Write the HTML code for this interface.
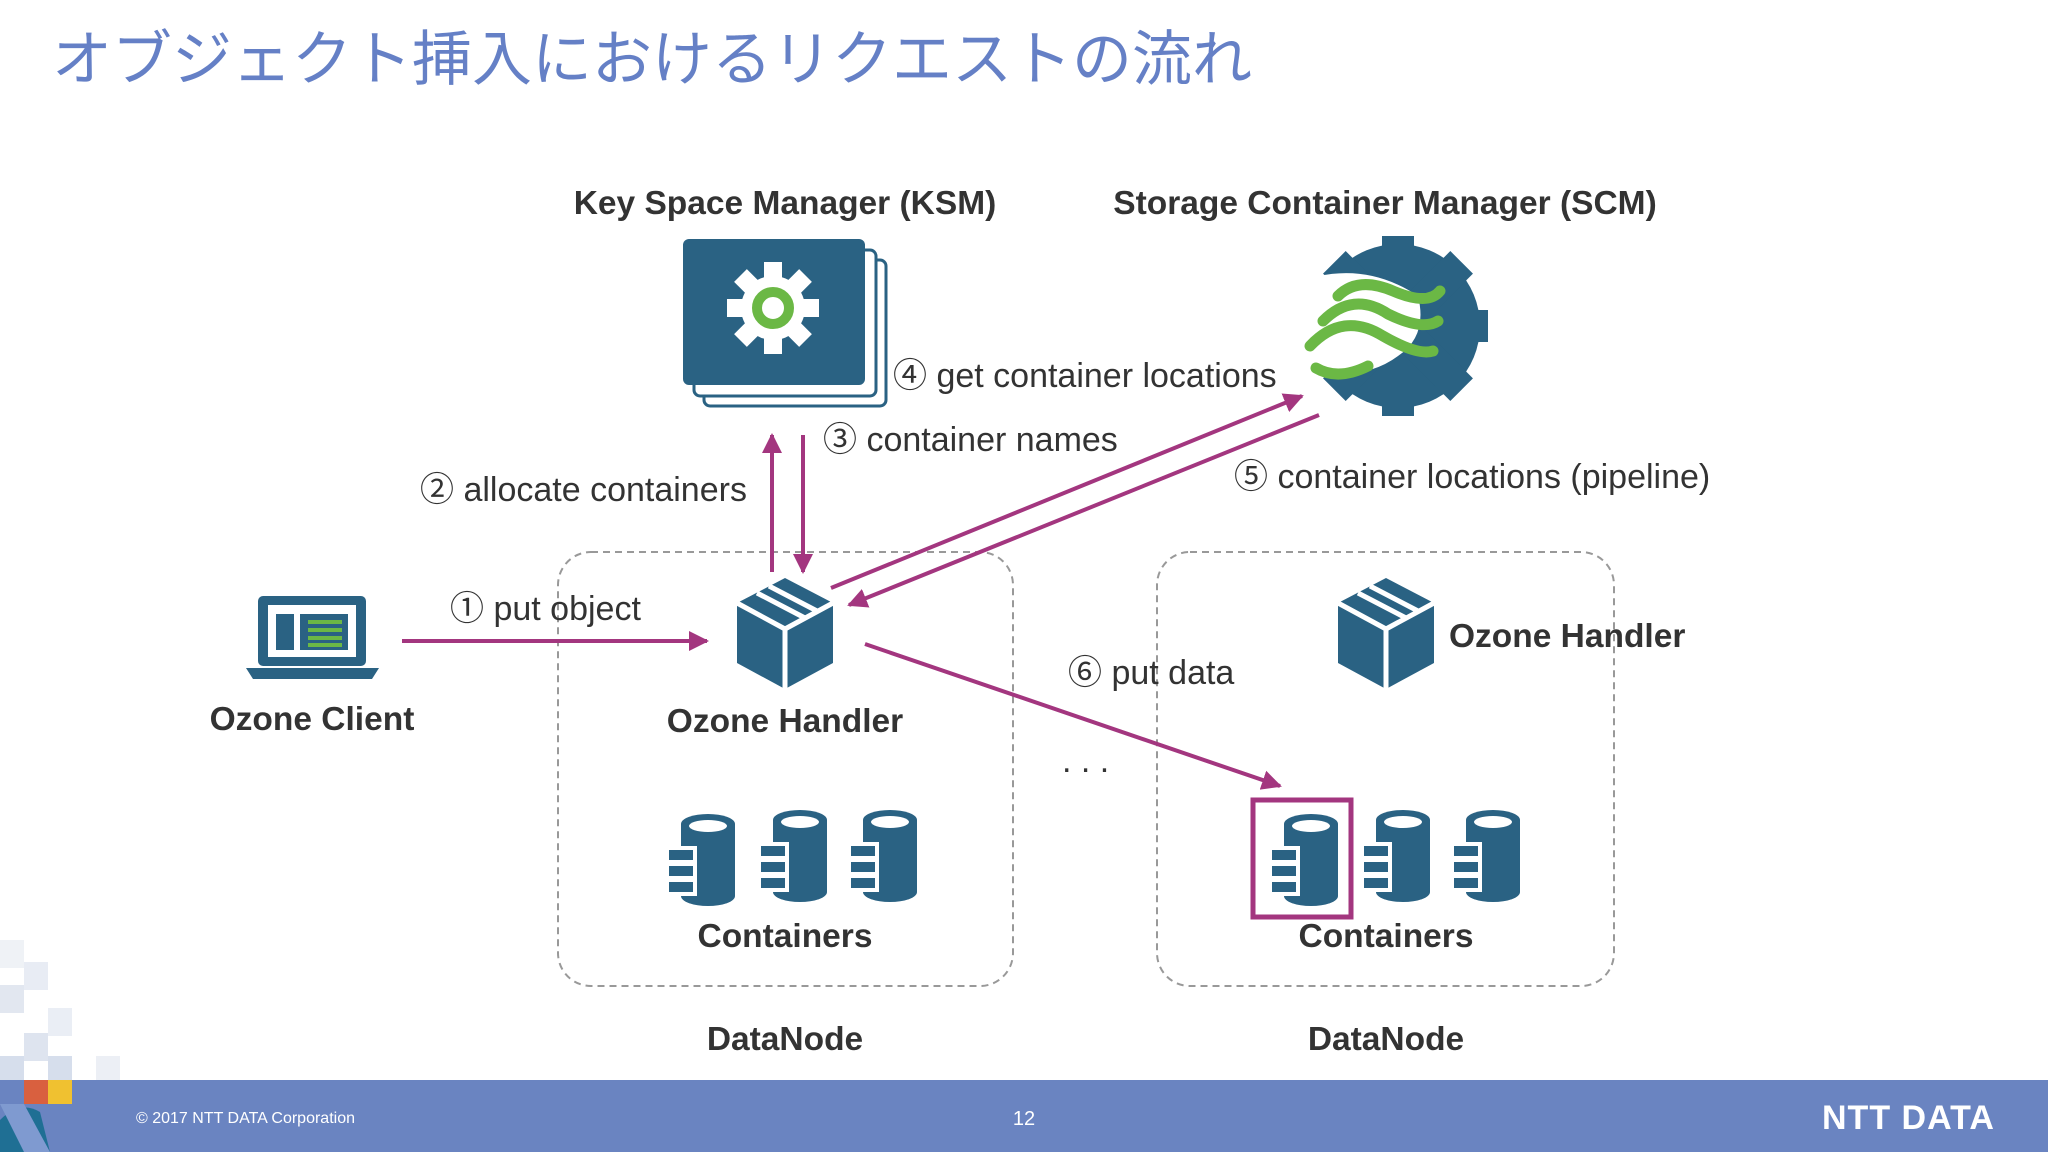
<!DOCTYPE html>
<html><head><meta charset="utf-8"><style>
html,body{margin:0;padding:0;background:#fff;}
svg{display:block;}
text{font-family:"Liberation Sans","Noto Sans CJK JP",sans-serif;}
</style></head><body>
<svg width="2048" height="1152" viewBox="0 0 2048 1152" xmlns="http://www.w3.org/2000/svg">
<defs>
<marker id="ah" viewBox="0 0 10 10" refX="9" refY="5" markerWidth="5" markerHeight="5" orient="auto-start-reverse"><path d="M0,0 L10,5 L0,10 z" fill="#a3367f"/></marker>
<g id="cyl">
<path d="M-22,-38 a27,10 0 0 1 54,0 v72 a27,10 0 0 1 -54,0 z" fill="#2a6283"/>
<ellipse cx="5" cy="-36" rx="19" ry="6" fill="#fff"/>
<rect x="-36" y="-14" width="28" height="14" fill="#2a6283" stroke="#fff" stroke-width="4"/>
<rect x="-36" y="2" width="28" height="14" fill="#2a6283" stroke="#fff" stroke-width="4"/>
<rect x="-36" y="18" width="28" height="14" fill="#2a6283" stroke="#fff" stroke-width="4"/>
</g>
<g id="cube">
<path d="M0,-55 L48,-30 L48,30 L0,56 L-48,30 L-48,-30 z" fill="#2a6283"/>
<path d="M-48,-30 L0,-4 L48,-30 M0,-4 V56" stroke="#fff" stroke-width="5" fill="none"/>
<path d="M-28,-40 L20,-15 M-16,-47 L32,-22" stroke="#fff" stroke-width="5" fill="none"/>
</g>
</defs>

<g opacity="0.9">
<rect x="0" y="940" width="24" height="28" fill="#eef1f6"/>
<rect x="24" y="962" width="24" height="28" fill="#e6ebf3"/>
<rect x="0" y="985" width="24" height="28" fill="#dfe5ef"/>
<rect x="48" y="1008" width="24" height="28" fill="#e8edf5"/>
<rect x="24" y="1033" width="24" height="28" fill="#dbe2ee"/>
<rect x="0" y="1056" width="24" height="26" fill="#d2dbea"/>
<rect x="48" y="1056" width="24" height="26" fill="#d2dbea"/>
<rect x="96" y="1056" width="24" height="26" fill="#eaeef5"/>
</g>

<text x="52" y="80" font-size="60" fill="#6580c6">オブジェクト挿入におけるリクエストの流れ</text>

<rect x="0" y="1080" width="2048" height="72" fill="#6a84c1"/>
<rect x="24" y="1080" width="24" height="24" fill="#d9603f"/>
<rect x="48" y="1080" width="24" height="24" fill="#f0c130"/>
<path d="M0,1152 V1120 Q20,1100 40,1112 L50,1152 z" fill="#1f6f94"/>
<path d="M0,1104 L24,1104 L50,1152 L24,1152 z" fill="#7f9ad0"/>
<text x="136" y="1123" font-size="16" fill="#fff">© 2017 NTT DATA Corporation</text>
<text x="1024" y="1125" font-size="20" fill="#fff" text-anchor="middle">12</text>
<text x="1822" y="1129" font-size="34" font-weight="bold" fill="#fff" letter-spacing="1">NTT DATA</text>

<text x="785" y="214" font-size="33.5" font-weight="bold" fill="#333" text-anchor="middle">Key Space Manager (KSM)</text>
<text x="1385" y="214" font-size="33.5" font-weight="bold" fill="#333" text-anchor="middle">Storage Container Manager (SCM)</text>

<rect x="704" y="260" width="182" height="146" rx="6" fill="#fff" stroke="#2a6283" stroke-width="3"/>
<rect x="694" y="250" width="182" height="146" rx="6" fill="#fff" stroke="#2a6283" stroke-width="3"/>
<rect x="683" y="239" width="182" height="146" rx="6" fill="#2a6283"/>
<g transform="translate(773,308)">
<circle r="32" fill="#fff"/>
<g fill="#fff">
<rect x="-9" y="-46" width="18" height="92"/>
<rect x="-9" y="-46" width="18" height="92" transform="rotate(45)"/>
<rect x="-9" y="-46" width="18" height="92" transform="rotate(90)"/>
<rect x="-9" y="-46" width="18" height="92" transform="rotate(135)"/>
</g>
<circle r="16" fill="none" stroke="#6bb845" stroke-width="10"/>
</g>

<g transform="translate(1398,326)">
<circle r="82" fill="#2a6283"/>
<g fill="#2a6283">
<rect x="-16" y="-90" width="32" height="180"/>
<rect x="-16" y="-90" width="32" height="180" transform="rotate(45)"/>
<rect x="-16" y="-90" width="32" height="180" transform="rotate(90)"/>
<rect x="-16" y="-90" width="32" height="180" transform="rotate(135)"/>
</g>
<path d="M-110,-40 Q-40,-70 20,-30 Q30,10 0,30 Q-40,60 -110,40 z" fill="#fff"/>
<g fill="none" stroke="#6bb845" stroke-width="11" stroke-linecap="round">
<path d="M-60,-30 Q-40,-50 -5,-35 Q30,-20 42,-35"/>
<path d="M-75,-5 Q-45,-35 -10,-12 Q25,5 40,-5"/>
<path d="M-88,20 Q-55,-15 -15,10 Q20,30 35,25"/>
<path d="M-82,42 Q-60,55 -30,40"/>
</g>
</g>

<rect x="558" y="552" width="455" height="434" rx="33" fill="none" stroke="#999" stroke-width="2" stroke-dasharray="7,5"/>
<rect x="1157" y="552" width="457" height="434" rx="33" fill="none" stroke="#999" stroke-width="2" stroke-dasharray="7,5"/>

<rect x="258" y="596" width="108" height="70" rx="5" fill="#2a6283"/>
<rect x="268" y="605" width="88" height="52" fill="#fff"/>
<rect x="276" y="614" width="18" height="36" fill="#2a6283"/>
<rect x="300" y="614" width="48" height="36" fill="#2a6283"/>
<g stroke="#6bb845" stroke-width="4"><line x1="308" y1="622" x2="342" y2="622"/><line x1="308" y1="630" x2="342" y2="630"/><line x1="308" y1="638" x2="342" y2="638"/><line x1="308" y1="645" x2="342" y2="645"/></g>
<path d="M246,668 H379 L372,679 H253 z" fill="#2a6283"/>
<text x="312" y="730" font-size="33.5" font-weight="bold" fill="#333" text-anchor="middle">Ozone Client</text>

<use href="#cube" x="785" y="633"/>
<text x="785" y="732" font-size="33.5" font-weight="bold" fill="#333" text-anchor="middle">Ozone Handler</text>
<use href="#cube" x="1386" y="633"/>
<text x="1449" y="647" font-size="33.5" font-weight="bold" fill="#333">Ozone Handler</text>

<use href="#cyl" x="703" y="862"/>
<use href="#cyl" x="795" y="858"/>
<use href="#cyl" x="885" y="858"/>
<text x="785" y="947" font-size="33.5" font-weight="bold" fill="#333" text-anchor="middle">Containers</text>
<use href="#cyl" x="1306" y="862"/>
<use href="#cyl" x="1398" y="858"/>
<use href="#cyl" x="1488" y="858"/>
<rect x="1253" y="800" width="98" height="117" fill="none" stroke="#a3367f" stroke-width="5"/>
<text x="1386" y="947" font-size="33.5" font-weight="bold" fill="#333" text-anchor="middle">Containers</text>

<text x="785" y="1050" font-size="33.5" font-weight="bold" fill="#333" text-anchor="middle">DataNode</text>
<text x="1386" y="1050" font-size="33.5" font-weight="bold" fill="#333" text-anchor="middle">DataNode</text>

<g stroke="#a3367f" stroke-width="4" fill="none" marker-end="url(#ah)">
<line x1="402" y1="641" x2="707" y2="641"/>
<line x1="772" y1="572" x2="772" y2="435"/>
<line x1="803" y1="435" x2="803" y2="572"/>
<line x1="831" y1="588" x2="1302" y2="396"/>
<line x1="1319" y1="415" x2="849" y2="605"/>
<line x1="865" y1="644" x2="1280" y2="786"/>
</g>

<g font-size="34" fill="#333">
<text x="450" y="620">① put object</text>
<text x="420" y="501">② allocate containers</text>
<text x="823" y="451">③ container names</text>
<text x="893" y="387">④ get container locations</text>
<text x="1234" y="488">⑤ container locations (pipeline)</text>
<text x="1068" y="684">⑥ put data</text>
<text x="1062" y="772">. . .</text>
</g>
</svg>
</body></html>
